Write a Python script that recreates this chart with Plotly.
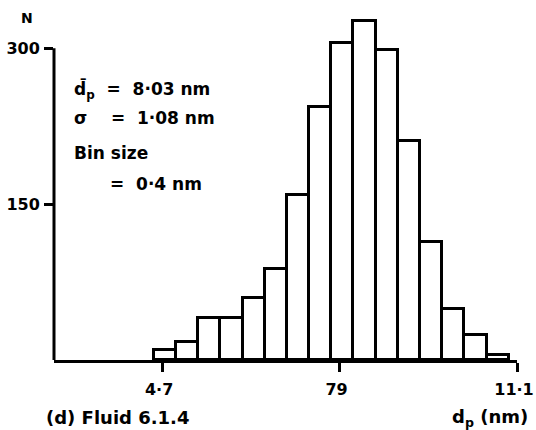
import plotly.graph_objects as go

# Data
bin_centers = [4.75, 5.15, 5.55, 5.95, 6.35, 6.75, 7.15, 7.55, 7.95, 8.35,
               8.75, 9.15, 9.55, 9.95, 10.35, 10.75]
counts = [10, 17, 40, 40, 60, 88, 159, 243, 305, 326, 298, 211, 114, 49, 24, 5]
bin_width = 0.4
x_tickvals = [4.7, 7.9, 11.1]
x_ticktext = ["4·7", "79", "11·1"]
y_tickvals = [150, 300]
y_ticktext = ["150", "300"]

FONT = "DejaVu Sans"
def f(size=18):
    return dict(family=FONT, size=size, color="black", weight="bold")

fig = go.Figure()
fig.add_trace(go.Bar(
    x=bin_centers, y=counts, width=bin_width,
    marker=dict(color="white", line=dict(color="black", width=3)),
    showlegend=False, hoverinfo="x+y",
))

fig.update_layout(
    width=536, height=430,
    margin=dict(l=54, r=19, t=17, b=70, autoexpand=False),
    paper_bgcolor="white", plot_bgcolor="white",
    font=f(),
    bargap=0,
    xaxis=dict(
        range=[2.75, 11.1], showgrid=False, zeroline=False, automargin=False,
        showline=True, linecolor="black", linewidth=3,
        tickmode="array", tickvals=x_tickvals, ticktext=x_ticktext,
        ticks="outside", ticklen=9, tickwidth=3, tickcolor="black",
        tickfont=f(16), ticklabelstandoff=4, ticklabeloverflow="allow",
        ticklabelshift=-3,
    ),
    yaxis=dict(
        range=[0, 330], showgrid=False, zeroline=False, showline=False,
        automargin=False,
        tickmode="array", tickvals=y_tickvals, ticktext=y_ticktext,
        ticks="outside", ticklen=9, tickwidth=3, tickcolor="black",
        tickfont=f(16), ticklabelstandoff=1, ticklabeloverflow="allow",
    ),
)

# y axis line only up to 300
fig.add_shape(type="line", xref="paper", yref="y", x0=0, x1=0, y0=0, y1=300,
              line=dict(color="black", width=3))

ann = [
    ("d\u0304<sub>p</sub>  =  8·03 nm", 3.08, 259.6),
    ("\u03c3    =  1·08 nm", 3.08, 232.7),
    ("Bin size", 3.08, 199),
    ("=  0·4 nm", 3.72, 169),
]
for txt, xx, yy in ann:
    fig.add_annotation(text=txt, x=xx, y=yy, xref="x", yref="y",
                       xanchor="left", yanchor="middle", showarrow=False,
                       font=f(17))

fig.add_annotation(text="N", x=-0.058, y=0.997, xref="paper", yref="paper",
                   xanchor="center", yanchor="middle",
                   showarrow=False, font=f(14))
fig.add_annotation(text="(d) Fluid 6.1.4", x=-0.022, y=-0.169, xref="paper", yref="paper",
                   xanchor="left", yanchor="middle", showarrow=False,
                   font=f(18))
fig.add_annotation(text="d<sub>p</sub> (nm)", x=1.028, y=-0.169, xref="paper", yref="paper",
                   xanchor="right", yanchor="middle", showarrow=False,
                   font=f(18))

fig.write_html(
    "out.html",
    config={"displayModeBar": False},
    post_script="document.body.style.margin='0';document.body.style.overflow='hidden';",
)
